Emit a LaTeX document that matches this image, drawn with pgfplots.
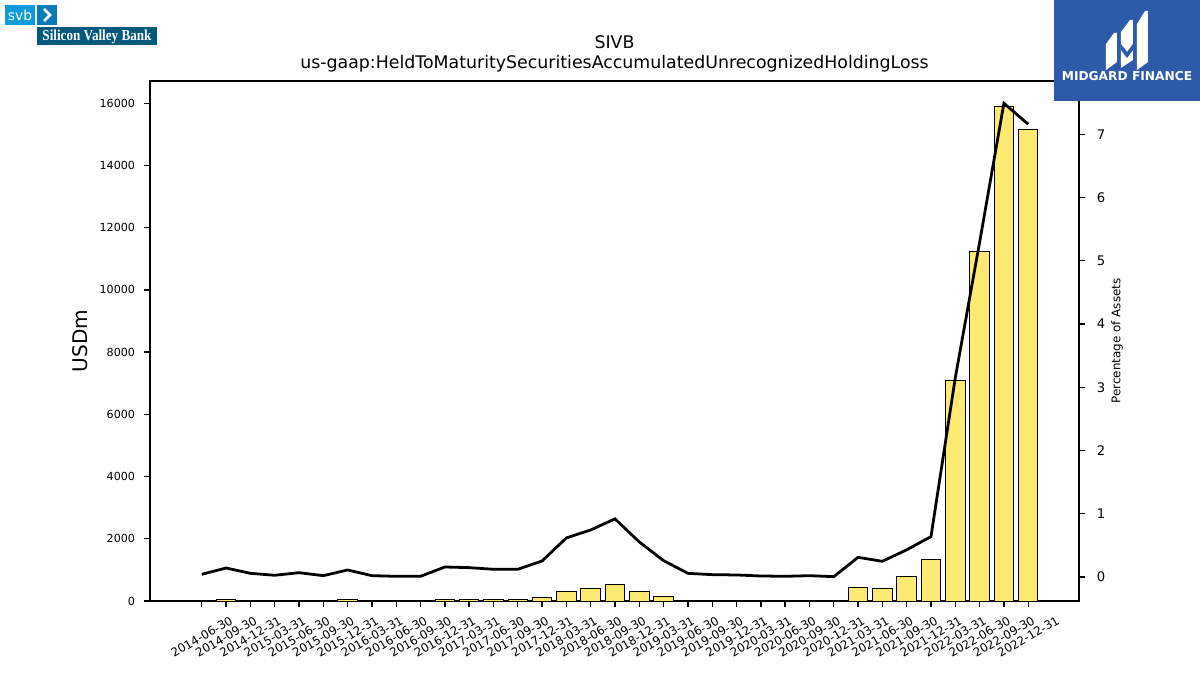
\documentclass[border=0pt]{standalone}
\usepackage{fontspec}
\setmainfont{DejaVu Sans}
\newfontfamily\svbserif{Liberation Serif}
\usepackage{pgfplots}
\pgfplotsset{compat=1.18}
\definecolor{baryellow}{RGB}{254,234,114}
\definecolor{svblight}{RGB}{16,156,218}
\definecolor{svbmid}{RGB}{8,124,186}
\definecolor{svbdark}{RGB}{0,88,125}
\definecolor{midblue}{RGB}{45,91,170}

\pgfplotstableread{
x y
0 0
1 40
2 0
3 0
4 0
5 0
6 40
7 0
8 0
9 0
10 40
11 40
12 40
13 40
14 120
15 300
16 408
17 536
18 300
19 138
20 0
21 0
22 0
23 0
24 0
25 0
26 0
27 440
28 395
29 781
30 1327
31 7080
32 11245
33 15904
34 15155
}\bartable

\pgfplotstableread{
x y
0 0.043
1 0.142
2 0.058
3 0.027
4 0.068
5 0.021
6 0.111
7 0.021
8 0.011
9 0.011
10 0.158
11 0.148
12 0.122
13 0.122
14 0.253
15 0.618
16 0.744
17 0.919
18 0.554
19 0.258
20 0.058
21 0.037
22 0.032
23 0.016
24 0.011
25 0.021
26 0.005
27 0.311
28 0.248
29 0.430
30 0.638
31 3.15
32 5.29
33 7.49
34 7.16
}\linetable

\begin{document}
\begin{tikzpicture}
\path[use as bounding box] (0,0) rectangle (864bp,486bp);
\begin{axis}[
  at={(108bp,53.28bp)}, anchor=south west,
  scale only axis, width=668.88bp, height=374.4bp,
  xmin=-2.13, xmax=36.09, ymin=0, ymax=16717,
  axis line style={line width=1.2bp},
  every tick/.style={line width=1bp, black},
  tick align=outside, major tick length=4.3bp,
  xtick pos=left, ytick pos=left,
  xtick={0,...,34},
  xticklabels={2014-06-30,2014-09-30,2014-12-31,2015-03-31,2015-06-30,2015-09-30,2015-12-31,2016-03-31,2016-06-30,2016-09-30,2016-12-31,2017-03-31,2017-06-30,2017-09-30,2017-12-31,2018-03-31,2018-06-30,2018-09-30,2018-12-31,2019-03-31,2019-06-30,2019-09-30,2019-12-31,2020-03-31,2020-06-30,2020-09-30,2020-12-31,2021-03-31,2021-06-30,2021-09-30,2021-12-31,2022-03-31,2022-06-30,2022-09-30,2022-12-31},
  ytick={0,2000,...,16000},
  scaled y ticks=false,
  /pgf/number format/1000 sep={},
  /pgf/number format/assume math mode=true,
  ticklabel style={font=\fontsize{8bp}{9.6bp}\selectfont},
  yticklabel style={xshift=-3bp},
  xticklabel style={yshift=-21.5bp, rotate=30, anchor=center, font=\fontsize{8.5bp}{10bp}\selectfont},
  ylabel={USDm},
  ylabel style={at={(axis description cs:-0.0753,0.5)}, anchor=center, font=\fontsize{14.5bp}{16bp}\selectfont},
  title={SIVB\\us-gaap:HeldToMaturitySecuritiesAccumulatedUnrecognizedHoldingLoss},
  title style={at={(axis description cs:0.5,1)}, anchor=south, yshift=0.5bp, align=center, inner sep=0pt, font=\fontsize{12.5bp}{14bp}\selectfont},
]
\addplot[ybar, bar width=0.8, fill=baryellow, draw=black, line width=0.7bp] table[x=x,y=y] {\bartable};
\end{axis}
\begin{axis}[
  at={(108bp,53.28bp)}, anchor=south west,
  scale only axis, width=668.88bp, height=374.4bp,
  xmin=-2.13, xmax=36.09, ymin=-0.3795, ymax=7.843,
  axis x line=none, axis y line*=right,
  axis line style={line width=1.2bp},
  every tick/.style={line width=1bp, black},
  tick align=outside, major tick length=4.3bp,
  ytick={0,...,7},
  /pgf/number format/assume math mode=true,
  ticklabel style={font=\fontsize{9.5bp}{11bp}\selectfont},
  yticklabel style={xshift=5bp},
  ylabel={Percentage of Assets},
  ylabel style={at={(axis description cs:1.0409,0.5)}, anchor=center, font=\fontsize{8.6bp}{10bp}\selectfont},
]
\addplot[black, line width=2bp, mark=none] table[x=x,y=y] {\linetable};
\end{axis}
\begin{scope}[x=0.72bp, y=-0.72bp, yshift=486bp]
  % SVB logo
  \fill[svblight] (5,5) rectangle (35,25);
  \node[text=white, font=\fontsize{10bp}{11bp}\selectfont] at (20,15.5) {svb};
  \fill[svbmid] (37,5) rectangle (57,25);
  \draw[white, line width=1.8bp] (44,9) -- (50,15) -- (44,21);
  \fill[svbdark] (37,27) rectangle (157,45);
  \node[text=white, font=\svbserif\bfseries\fontsize{11bp}{12bp}\selectfont, xscale=0.86] at (97,36.5) {Silicon Valley Bank};
  % Midgard logo
  \fill[midblue] (1054,0) rectangle (1200,101);
  \fill[white] (1106,70) -- (1106,44) -- (1114,33) -- (1117,33) -- (1117,62) -- cycle;
  \fill[white] (1121,68) -- (1121,32) -- (1130,20) -- (1133,20) -- (1133,60) -- cycle;
  \fill[white] (1137,70) -- (1137,24) -- (1145,11) -- (1148,11) -- (1148,62) -- cycle;
  \fill[midblue] (1121,44) -- (1127,52) -- (1133,44) -- (1133,50) -- (1127,58) -- (1121,50) -- cycle;
  \node[text=white, font=\bfseries\fontsize{8.8bp}{10bp}\selectfont] at (1127,76.5) {MIDGARD FINANCE};
\end{scope}
\end{tikzpicture}
\end{document}
